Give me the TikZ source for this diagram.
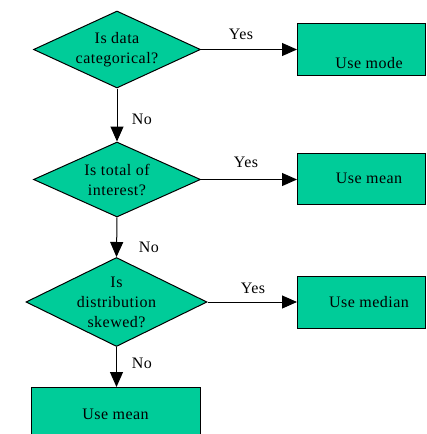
\documentclass[tikz,border=0pt]{standalone}
\usepackage{fontspec}
\setmainfont[LetterSpace=3]{Liberation Serif}
\usetikzlibrary{arrows.meta,shapes.geometric}
\definecolor{fc}{RGB}{0,204,153}
\begin{document}
\begin{tikzpicture}[x=1pt,y=-1pt,
  every node/.style={font=\fontsize{16}{20}\selectfont},
  dia/.style={diamond,draw=black,fill=fc,line width=1pt,inner sep=0pt,minimum width=#1},
  boxs/.style={draw=black,fill=fc,line width=1pt,inner sep=0pt,anchor=north west},
  conn/.style={line width=1pt,-{Triangle[length=15pt,width=13pt]}},
  lbl/.style={inner sep=0pt}
]
\useasboundingbox (0,0) rectangle (427,434);
\clip (0,0) rectangle (427,434);
% diamonds
\node[dia=167pt,minimum height=77pt,label={[align=center]center:Is data\\categorical?}] (d1) at (117,49.5) {};
\node[dia=167pt,minimum height=75pt,label={[align=center]center:Is total of\\interest?}] (d2) at (117,179.5) {};
\node[dia=181pt,minimum height=89pt,label={[align=center]center:Is\\distribution\\skewed?}] (d3) at (116.5,302) {};
% boxes
\node[boxs,minimum width=128pt,minimum height=52pt] (b1) at (297,23) {};
\node[lbl] (t1) at (369,63) {Use mode};
\node[boxs,minimum width=128pt,minimum height=51pt] (b2) at (297,153) {};
\node[lbl] (t2) at (369,178.5) {Use mean};
\node[boxs,minimum width=128pt,minimum height=52pt] (b3) at (297,276) {};
\node[lbl] (t3) at (369,302) {Use median};
\node[boxs,minimum width=169pt,minimum height=60pt] (b4) at (31,387) {};
\node[lbl] (t4) at (115.5,414) {Use mean};
% connectors
\draw[conn] (d1.east) -- (b1.west |- d1.east);
\draw[conn] (d2.east) -- (b2.west |- d2.east);
\draw[conn] (d3.east) -- (b3.west |- d3.east);
\draw[conn] (d1.south) -- (d2.north);
\draw[conn] (d2.south) -- (d3.north);
\draw[conn] (d3.south) -- (d3.south |- b4.north);
% labels
\node[lbl] (y1) at (241,34) {Yes};
\node[lbl] (y2) at (246,162) {Yes};
\node[lbl] (y3) at (253,288) {Yes};
\node[lbl] (n1) at (142,119) {No};
\node[lbl] (n2) at (149,247) {No};
\node[lbl] (n3) at (142,363) {No};
\end{tikzpicture}
\end{document}
